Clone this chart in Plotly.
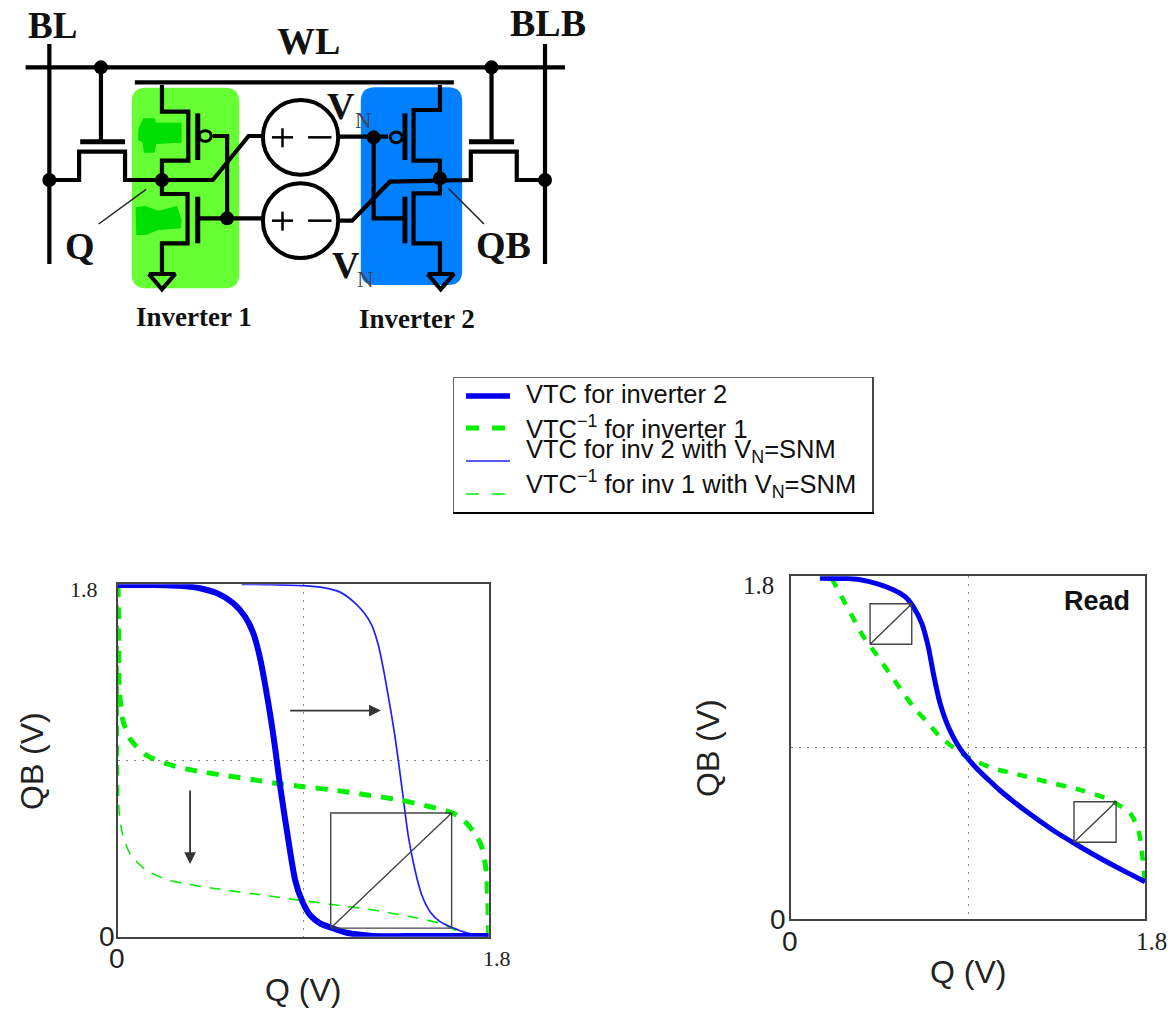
import plotly.graph_objects as go

W, H = 1172, 1009

# ---------- data, volts ----------
left_vtc2_q = [0, .12, .236, .30, .36, .398, .479, .560, .617, .657, .690, .730, .762, .787, .827, .860, .892, .932, .981, 1.029, 1.111, 1.238, 1.4, 1.6, 1.8]
left_vtc2_qb = [1.797, 1.797, 1.795, 1.792, 1.786, 1.780, 1.755, 1.703, 1.635, 1.550, 1.422, 1.192, .971, .770, .494, .290, .188, .111, .068, .048, .020, .004, .003, .003, .003]
left_vtc2n_q = [.601, .75, .900, .997, 1.078, 1.143, 1.191, 1.232, 1.264, 1.288, 1.317, 1.345, 1.378, 1.410, 1.442, 1.475, 1.515, 1.564, 1.620, 1.693, 1.790, 1.8]
left_vtc2n_qb = [1.800, 1.798, 1.793, 1.783, 1.760, 1.712, 1.660, 1.592, 1.490, 1.371, 1.201, 1.022, .766, .511, .341, .213, .128, .077, .048, .020, .004, .003]
left_inv1_q = [0, .003, .005, .010, .023, .062, .136, .228, .330, .431, .536, .65, .771, .900, 1.046, 1.208, 1.369, 1.515, 1.628, 1.693, 1.742, 1.766, 1.787, 1.795, 1.8]
left_inv1_qb = [1.797, 1.584, 1.311, 1.218, 1.107, 1.005, .928, .886, .857, .838, .821, .803, .783, .766, .749, .724, .698, .664, .630, .579, .511, .460, .341, .204, .003]
left_inv1n_q = [0, .002, .006, .023, .062, .136, .228, .334, .431, .520, .65, .816, 1.029, 1.240, 1.434, 1.564, 1.669]
left_inv1n_qb = [1.797, .900, .630, .520, .417, .341, .295, .269, .252, .239, .220, .196, .166, .136, .099, .068, .017]
left_box_q = [1.033, 1.620, 1.620, 1.033, 1.033, 1.620]
left_box_qb = [.044, .044, .632, .632, .044, .632]

right_vtc2_q = [.147, .22, .283, .351, .436, .520, .580, .622, .665, .698, .727, .758, .800, .859, .936, 1.0, 1.063, 1.198, 1.334, 1.453, 1.588, 1.707, 1.8]
right_vtc2_qb = [1.790, 1.789, 1.788, 1.782, 1.762, 1.730, 1.693, 1.640, 1.553, 1.430, 1.273, 1.133, 1.010, .896, .800, .735, .675, .564, .465, .390, .310, .245, .196]
right_inv1_q = [.207, .266, .317, .368, .436, .495, .554, .622, .690, .758, .842, .927, 1.029, 1.131, 1.300, 1.469, 1.622, 1.724, 1.766, 1.783, 1.797, 1.8]
right_inv1_qb = [1.790, 1.676, 1.579, 1.483, 1.387, 1.299, 1.212, 1.115, 1.037, .958, .888, .835, .791, .765, .721, .678, .625, .555, .468, .362, .222, .161]
right_box1_q = [.402, .614, .614, .402, .402, .614]
right_box1_qb = [1.443, 1.443, 1.656, 1.656, 1.443, 1.656]
right_box2_q = [1.439, 1.653, 1.653, 1.439, 1.439, 1.653]
right_box2_qb = [.403, .403, .616, .616, .403, .616]

axis_tick_values = [0, 1.8]
axis_tick_labels = ["0", "1.8"]
grid_values = [0.9]
legend_labels = ["VTC for inverter 2",
                 "VTC<sup>\u22121</sup> for inverter 1",
                 "VTC for inv 2 with V<sub>N</sub>=SNM",
                 "VTC<sup>\u22121</sup> for inv 1 with V<sub>N</sub>=SNM"]

# ---------- schematic outline, in crop pixels (x/2.655, y/3) ----------
wires = [
    [(68, 202), (1500, 202)], [(131, 132), (131, 792)], [(1447, 132), (1447, 792)],
    [(358, 247), (1205, 247)], [(268, 202), (268, 422)], [(1305, 202), (1305, 422)],
    [(131, 540), (210, 540), (210, 455), (332, 455), (332, 540), (565, 540), (660, 408), (700, 408)],
    [(430, 255), (430, 335), (500, 335), (500, 482), (430, 482), (430, 582), (498, 582), (498, 730), (430, 730), (430, 825)],
    [(565, 408), (603, 408), (603, 655)], [(530, 655), (700, 655)],
    [(900, 410), (1030, 410)], [(992, 412), (992, 655), (1070, 655)],
    [(1168, 255), (1168, 330), (1098, 330), (1098, 482), (1168, 482), (1168, 580), (1098, 580), (1098, 730), (1168, 730), (1168, 825)],
    [(900, 662), (935, 662), (1035, 545), (1250, 540), (1250, 455), (1372, 455), (1372, 540), (1447, 540)],
    [(395, 822), (465, 822), (430, 868), (395, 822)], [(1135, 822), (1205, 822), (1170, 868), (1135, 822)],
]
gate_bars = [
    [(213, 425), (332, 425)], [(1245, 425), (1365, 425)], [(525, 340), (525, 480)], [(525, 590), (525, 730)],
    [(1075, 340), (1075, 480)], [(1075, 590), (1075, 730)],
]
thin_leaders = [[(262, 672), (388, 568)], [(1190, 565), (1285, 672)]]
source_signs = [[(722, 412), (778, 412)], [(750, 385), (750, 442)], [(818, 412), (880, 412)],
                [(722, 662), (778, 662)], [(750, 635), (750, 692)], [(818, 662), (880, 662)]]
nodes = [(268, 202), (1305, 202), (131, 540), (1447, 540), (430, 540), (1168, 535), (603, 655), (992, 412)]
sources = [(798, 412), (798, 662)]
bubbles = [(545, 408), (1052, 412)]
schematic_text = [
    ("BL", 140, 75, 37, "#111"), ("WL", 818, 122, 38, "#111"), ("BLB", 1455, 68, 38, "#111"),
    ("Q", 212, 737, 38, "#111"), ("QB", 1338, 735, 38, "#111"),
    ("V", 905, 318, 38, "#111"), ("V", 918, 795, 38, "#111"),
    ("N", 966, 360, 23, "#445"), ("N", 970, 838, 23, "#445"),
]
inverter_text = [("Inverter 1", 515, 950), ("Inverter 2", 1107, 957)]
blob_outlines = [
    [(368, 385), (380, 355), (410, 355), (415, 368), (482, 368), (482, 428), (415, 432), (410, 458), (382, 458), (378, 425), (366, 420)],
    [(360, 622), (385, 618), (420, 632), (470, 618), (482, 660), (480, 685), (420, 690), (388, 705), (362, 705)],
]

# ---------- layout helpers ----------
SANS = "Liberation Sans"
SERIF = "Liberation Serif"
BLUE = "#0000f0"
GREEN = "#00f000"
SX, SY = 2.655, 3.0


def xdom(a, b):
    return [a / W, b / W]


def ydom(bottom, top):
    return [1 - bottom / H, 1 - top / H]


def path_xy(paths):
    xs, ys = [], []
    for p in paths:
        xs += [pt[0] / SX for pt in p] + [None]
        ys += [pt[1] / SY for pt in p] + [None]
    return xs, ys


def rounded(x0, y0, x1, y1, r):
    x0, x1, y0, y1 = x0 / SX, x1 / SX, y0 / SY, y1 / SY
    return (f"M{x0+r},{y0} L{x1-r},{y0} Q{x1},{y0} {x1},{y0+r} L{x1},{y1-r} Q{x1},{y1} {x1-r},{y1} "
            f"L{x0+r},{y1} Q{x0},{y1} {x0},{y1-r} L{x0},{y0+r} Q{x0},{y0} {x0+r},{y0} Z")


def polygon(points):
    return "M" + " L".join(f"{x/SX},{y/SY}" for x, y in points) + " Z"


fig = go.Figure()


def page_line(paths, width, color="black", name="schematic"):
    xs, ys = path_xy(paths)
    fig.add_trace(go.Scatter(x=xs, y=ys, mode="lines", xaxis="x3", yaxis="y3", name=name, showlegend=False,
                             hoverinfo="skip", line=dict(color=color, width=width)))


def sample(y, color, width, dash="solid"):
    fig.add_trace(go.Scatter(x=[466, 510], y=[y, y], mode="lines", xaxis="x3", yaxis="y3", showlegend=False,
                             hoverinfo="skip", line=dict(color=color, width=width, dash=dash)))


def curve(q, qb, ax, color, width, dash="solid", name="", spline=True):
    fig.add_trace(go.Scatter(x=q, y=qb, mode="lines", xaxis=f"x{ax}", yaxis=f"y{ax}", name=name, showlegend=False,
                             cliponaxis=False,
                             line=dict(color=color, width=width, dash=dash, shape="spline" if spline else "linear",
                                       smoothing=0.7)))


shapes = [
    dict(type="path", path=rounded(350, 263, 635, 865, 14), fillcolor="#66ff33", line_width=0,
         xref="x3", yref="y3", layer="below"),
    dict(type="path", path=rounded(958, 262, 1227, 855, 14), fillcolor="#0080ff", line_width=0,
         xref="x3", yref="y3", layer="below"),
]
for outline in blob_outlines:
    shapes.append(dict(type="path", path=polygon(outline), fillcolor="#00e000", line_width=0,
                       xref="x3", yref="y3", layer="below"))
for cx, cy in sources:
    shapes.append(dict(type="circle", x0=(cx - 100) / SX, x1=(cx + 100) / SX, y0=(cy - 112) / SY, y1=(cy + 112) / SY,
                       line=dict(color="black", width=4), fillcolor="white", xref="x3", yref="y3", layer="below"))
for cx, cy in bubbles:
    shapes.append(dict(type="circle", x0=(cx - 16) / SX, x1=(cx + 16) / SX, y0=(cy - 16) / SY, y1=(cy + 16) / SY,
                       line=dict(color="black", width=3), fillcolor="rgba(0,0,0,0)", xref="x3", yref="y3"))
shapes.append(dict(type="rect", x0=453.5, x1=873, y0=377.5, y1=513, line=dict(color="#666", width=1),
                   fillcolor="white", xref="x3", yref="y3", layer="below"))
shapes.append(dict(type="line", x0=453, x1=874, y0=513, y1=513, line=dict(color="black", width=2),
                   xref="x3", yref="y3"))
shapes.append(dict(type="line", x0=873, x1=873, y0=377, y1=513, line=dict(color="#222", width=1.5),
                   xref="x3", yref="y3"))

page_line(wires, 4.2)
page_line(gate_bars, 5)
page_line(source_signs, 2.5)
page_line(thin_leaders, 1.5, "#222")
fig.add_trace(go.Scatter(x=[n[0] / SX for n in nodes], y=[n[1] / SY for n in nodes], mode="markers", xaxis="x3",
                         yaxis="y3", showlegend=False, hoverinfo="skip", marker=dict(color="black", size=14)))

sample(396, BLUE, 5.5)
sample(428, GREEN, 5, "13px,13px")
sample(461, "#2020ff", 1.7)
sample(494, GREEN, 1.7, "13px,13px")

# left chart
curve(left_inv1n_q, left_inv1n_qb, 1, GREEN, 1.6, "11px,9px", "VTC-1 inv 1, VN=SNM")
curve(left_vtc2n_q, left_vtc2n_qb, 1, "#2020ff", 1.7, name="VTC inv 2, VN=SNM")
curve(left_inv1_q, left_inv1_qb, 1, GREEN, 5, "12px,10px", "VTC-1 inverter 1")
curve(left_vtc2_q, left_vtc2_qb, 1, BLUE, 6, name="VTC inverter 2")
curve(left_box_q, left_box_qb, 1, "#444", 1.4, name="SNM square", spline=False)

# right chart
curve(right_inv1_q, right_inv1_qb, 2, GREEN, 4.5, "10px,10px", "VTC-1 inverter 1")
curve(right_vtc2_q, right_vtc2_qb, 2, BLUE, 5, name="VTC inverter 2")
curve(right_box1_q, right_box1_qb, 2, "#444", 1.4, name="SNM square", spline=False)
curve(right_box2_q, right_box2_qb, 2, "#444", 1.4, name="SNM square", spline=False)

ann = []


def page_text(text, x, y, size, family=SANS, color="#111", **kw):
    ann.append(dict(text=text, x=x, y=y, xref="x3", yref="y3", showarrow=False, xanchor="center", yanchor="middle",
                    font=dict(size=size, family=family, color=color), **kw))


for t, x, y, s, c in schematic_text:
    page_text(f"<b>{t}</b>" if t != "N" else t, x / SX, y / SY, s, SERIF, c)
for t, x, y in inverter_text:
    page_text(f"<b>{t}</b>", x / SX, y / SY, 27, SERIF)

legend_y = [394, 427, 451, 484]
for t, y in zip(legend_labels, legend_y):
    ann.append(dict(text=t, x=524, y=y, xref="x3", yref="y3", showarrow=False, xanchor="left", yanchor="middle",
                    font=dict(size=25.5, family=SANS, color="#111")))

page_text("Q (V)", 303, 990, 32, color="#222")
page_text("QB (V)", 32, 761, 32, color="#222", textangle=-90)
page_text("Q (V)", 968, 972, 32, color="#222")
page_text("QB (V)", 708, 748, 32, color="#222", textangle=-90)
page_text("<b>Read</b>", 1097, 601, 27)


def tick_text(value, label, axis, side, shift):
    small = label != "0"
    fontd = dict(size=shift["size"] if small else 28, family=SERIF if small else SANS, color="#222")
    if side == "x":
        ann.append(dict(text=label, x=value, y=0, xref=f"x{axis}", yref=f"y{axis}", showarrow=False,
                        xanchor="center", yanchor="middle", xshift=shift["x_dx"] if small else -1,
                        yshift=-shift["x_dy"], font=fontd))
    else:
        ann.append(dict(text=label, x=0, y=value, xref=f"x{axis}", yref=f"y{axis}", showarrow=False,
                        xanchor="center", yanchor="middle", xshift=-shift["y_dx"] if small else -11 if axis == 1 else -13,
                        yshift=shift["y_dy"] if small else 0, font=fontd))


shift_left = dict(size=22, x_dx=8, x_dy=22, y_dx=34, y_dy=-5)
shift_right = dict(size=25, x_dx=6, x_dy=22, y_dx=33, y_dy=-9)
for v, l in zip(axis_tick_values, axis_tick_labels):
    tick_text(v, l, 1, "x", shift_left)
    tick_text(v, l, 1, "y", shift_left)
    tick_text(v, l, 2, "x", shift_right)
    tick_text(v, l, 2, "y", shift_right)

ann.append(dict(x=1.276, y=1.155, ax=.829, ay=1.155, xref="x", yref="y", axref="x", ayref="y", text="",
                showarrow=True, arrowhead=2, arrowsize=1.3, arrowwidth=1.8, arrowcolor="#333"))
ann.append(dict(x=.350, y=.371, ax=.350, ay=.754, xref="x", yref="y", axref="x", ayref="y", text="",
                showarrow=True, arrowhead=2, arrowsize=1.3, arrowwidth=1.8, arrowcolor="#333"))

frame = dict(range=[0, 1.8], showline=True, mirror=True, linecolor="#444", linewidth=2, showticklabels=False,
             ticks="", tickvals=grid_values, showgrid=True, gridcolor="#888", gridwidth=1, griddash="2px,6px",
             zeroline=False, fixedrange=True)
hidden = dict(visible=False, fixedrange=True)

fig.update_layout(
    width=W, height=H, margin=dict(l=0, r=0, t=0, b=0), paper_bgcolor="white", plot_bgcolor="rgba(0,0,0,0)",
    showlegend=False, shapes=shapes, annotations=ann,
    xaxis=dict(domain=xdom(118, 488.7), anchor="y", **frame),
    yaxis=dict(domain=ydom(936.7, 584.3), anchor="x", **frame),
    xaxis2=dict(domain=xdom(791, 1145), anchor="y2", **frame),
    yaxis2=dict(domain=ydom(919, 576.3), anchor="x2", **frame),
    xaxis3=dict(domain=[0, 1], range=[0, W], anchor="y3", **hidden),
    yaxis3=dict(domain=[0, 1], range=[H, 0], anchor="x3", **hidden),
)

fig.write_html("out.html", config={"displayModeBar": False},
               post_script="document.body.style.margin='0';document.body.style.overflow='hidden';")
